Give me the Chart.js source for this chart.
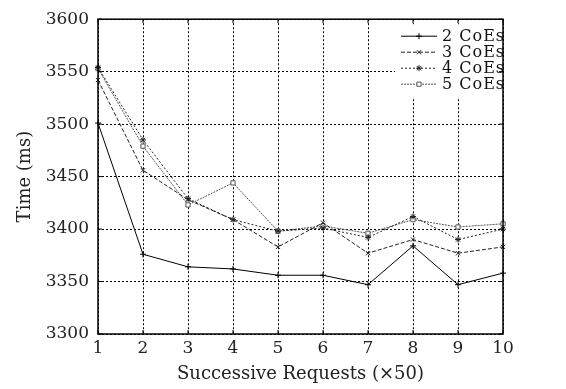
<!DOCTYPE html>
<html>
<head>
<meta charset="utf-8">
<script src="https://cdn.jsdelivr.net/npm/chart.js@4"></script>
<style>
  body { margin: 0; background: #fff; }
  canvas { display: block; }
</style>
</head>
<body>
<canvas id="chart" width="566" height="389"></canvas>
<script>
const requests = [1, 2, 3, 4, 5, 6, 7, 8, 9, 10];
const coes2 = [3501, 3376, 3364, 3362, 3356, 3356, 3347, 3384, 3347, 3358];
const coes3 = [3542, 3456, 3428, 3409, 3383, 3406, 3377, 3390, 3377, 3383];
const coes4 = [3554, 3485, 3429, 3409, 3398, 3401, 3392, 3412, 3390, 3400];
const coes5 = [3553, 3479, 3423, 3444, 3398, 3403, 3396, 3409, 3402, 3405];
const seriesNames = ['2 CoEs', '3 CoEs', '4 CoEs', '5 CoEs'];

const serif = "'DejaVu Serif', 'Liberation Serif', serif";

// frame round the plot + small inward ticks on every side
const framePlugin = {
    id: 'frame',
    afterDraw(chart) {
        const ctx = chart.ctx;
        const a = chart.chartArea;
        const xs = chart.scales.x;
        const ys = chart.scales.y;
        ctx.save();
        ctx.strokeStyle = '#000';
        ctx.lineWidth = 1.5;
        ctx.setLineDash([]);
        ctx.strokeRect(a.left, a.top, a.right - a.left, a.bottom - a.top);
        ctx.lineWidth = 1;
        const t = 4;
        xs.ticks.forEach((tk, i) => {
            const px = xs.getPixelForTick(i);
            ctx.beginPath();
            ctx.moveTo(px, a.bottom); ctx.lineTo(px, a.bottom - t);
            ctx.moveTo(px, a.top); ctx.lineTo(px, a.top + t);
            ctx.stroke();
        });
        ys.ticks.forEach((tk, i) => {
            const py = ys.getPixelForTick(i);
            ctx.beginPath();
            ctx.moveTo(a.left, py); ctx.lineTo(a.left + t, py);
            ctx.moveTo(a.right, py); ctx.lineTo(a.right - t, py);
            ctx.stroke();
        });
        ctx.restore();
    }
};

// legend drawn inside the plot, top right
const insideLegend = {
    id: 'insideLegend',
    afterDatasetsDraw(chart) {
        const ctx = chart.ctx;
        const a = chart.chartArea;
        const x0 = a.right - 102;
        const y0 = a.top + 17;
        const rowH = 16;
        ctx.save();
        ctx.fillStyle = '#fff';
        ctx.fillRect(x0 - 6, a.top + 5, a.right - x0 + 4, rowH * 4 + 9);
        chart.data.datasets.forEach((ds, i) => {
            const cy = y0 + i * rowH;
            ctx.strokeStyle = ds.borderColor;
            ctx.lineWidth = ds.borderWidth;
            ctx.setLineDash(ds.borderDash || []);
            ctx.beginPath();
            ctx.moveTo(x0, cy);
            ctx.lineTo(x0 + 36, cy);
            ctx.stroke();
            ctx.setLineDash([]);
            ctx.strokeStyle = ds.pointBorderColor;
            ctx.fillStyle = '#fff';
            Chart.helpers.drawPoint(ctx, {
                pointStyle: ds.pointStyle,
                radius: ds.pointRadius,
                borderWidth: 1
            }, x0 + 18, cy);
            ctx.fillStyle = '#111';
            ctx.font = '16px ' + serif;
            ctx.letterSpacing = '1px';
            ctx.textBaseline = 'middle';
            ctx.fillText(ds.label, x0 + 41, cy + 1);
        });
        ctx.restore();
    }
};

function makeSet(label, data, color, dash, style) {
    return {
        label: label,
        data: data,
        borderColor: color,
        backgroundColor: '#fff',
        pointBorderColor: color,
        pointBackgroundColor: '#fff',
        borderWidth: 1,
        borderDash: dash,
        pointStyle: style,
        pointRadius: 3,
        pointBorderWidth: 1,
        tension: 0
    };
}

new Chart(document.getElementById('chart'), {
    type: 'line',
    data: {
        labels: requests,
        datasets: [
            makeSet(seriesNames[0], coes2, '#000', [], 'cross'),
            makeSet(seriesNames[1], coes3, '#222', [4, 2], 'crossRot'),
            makeSet(seriesNames[2], coes4, '#222', [2, 2], 'star'),
            makeSet(seriesNames[3], coes5, '#555', [2, 1], 'rect')
        ]
    },
    options: {
        responsive: false,
        animation: false,
        devicePixelRatio: 1,
        layout: { padding: { top: 15, right: 63, left: 0, bottom: 0 } },
        plugins: {
            legend: { display: false },
            tooltip: { enabled: false }
        },
        scales: {
            x: {
                afterFit(scale) { scale.height = 55; },
                grid: { color: '#000', drawTicks: false, lineWidth: 1 },
                border: { display: false, dash: [2, 2] },
                ticks: { color: '#222', padding: 4, font: { family: serif, size: 17 } },
                title: {
                    display: true,
                    text: 'Successive Requests (×50)',
                    color: '#222',
                    padding: { top: 0 },
                    font: { family: serif, size: 18 }
                }
            },
            y: {
                min: 3300,
                max: 3600,
                afterFit(scale) { scale.width = 98; },
                grid: { color: '#000', drawTicks: false, lineWidth: 1 },
                border: { display: false, dash: [2, 2] },
                ticks: {
                    stepSize: 50,
                    color: '#222',
                    padding: 9,
                    font: { family: serif, size: 17 },
                    callback: v => String(v)
                },
                title: {
                    display: true,
                    text: 'Time (ms)',
                    color: '#222',
                    padding: { top: 15, bottom: 0 },
                    font: { family: serif, size: 18 }
                }
            }
        }
    },
    plugins: [framePlugin, insideLegend]
});
</script>
</body>
</html>
